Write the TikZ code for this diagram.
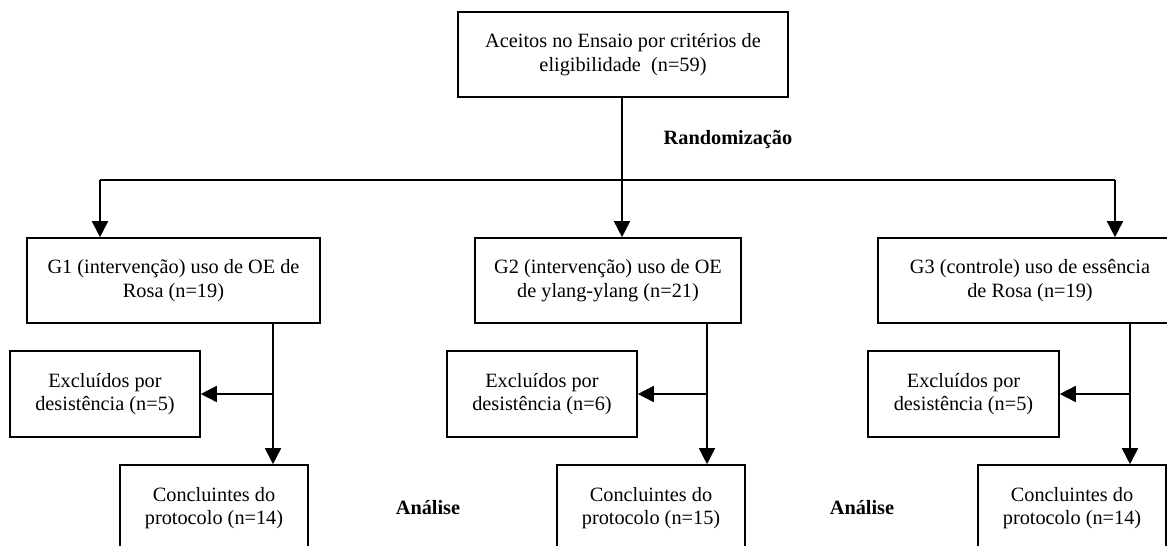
\documentclass[tikz,border=0pt]{standalone}
\usepackage{fontspec}
\setmainfont{Liberation Serif}
\usetikzlibrary{arrows.meta}

\tikzset{
  caixa/.style={draw, line width=1.6pt, align=center, inner sep=0pt,
    font=\fontsize{20.3}{23.5}\selectfont},
  linha/.style={line width=1.6pt},
  seta/.style={line width=1.6pt, -{Triangle[length=16pt,width=16pt]}},
  rotulo/.style={font=\fontsize{20.3}{23.5}\selectfont\bfseries}
}

\begin{document}
\begin{tikzpicture}[x=1pt,y=-1pt]
          \clip (0,0) rectangle (1167,546);
          % topo
          \node[caixa, minimum width=330pt, minimum height=85pt] (aceitos) at (623,54.5) {Aceitos no Ensaio por crit\'erios de\\ eligibilidade~~(n=59)};
          \node[rotulo] (random) at (728,140) {Randomiza\c{c}\~ao};
          % grupos
          \node[caixa, minimum width=293pt, minimum height=85pt] (g1) at (173.5,280.5) {G1 (interven\c{c}\~ao) uso de OE de\\ Rosa (n=19)};
          \node[caixa, minimum width=266pt, minimum height=85pt] (g2) at (608,280.5) {G2 (interven\c{c}\~ao) uso de OE\\ de ylang-ylang (n=21)};
          \node[caixa, minimum width=304pt, minimum height=85pt] (g3) at (1030,280.5) {G3 (controle) uso de ess\^encia\\ de Rosa (n=19)};
          % excluidos
          \node[caixa, minimum width=190pt, minimum height=86pt] (ex1) at (105,394) {Exclu\'idos por\\ desist\^encia (n=5)};
          \node[caixa, minimum width=190pt, minimum height=86pt] (ex2) at (542,394) {Exclu\'idos por\\ desist\^encia (n=6)};
          \node[caixa, minimum width=191pt, minimum height=86pt] (ex3) at (963.5,394) {Exclu\'idos por\\ desist\^encia (n=5)};
          % concluintes
          \node[caixa, minimum width=188pt, minimum height=86pt] (c1) at (214,508) {Concluintes do\\ protocolo (n=14)};
          \node[caixa, minimum width=188pt, minimum height=86pt] (c2) at (651,508) {Concluintes do\\ protocolo (n=15)};
          \node[caixa, minimum width=188pt, minimum height=86pt] (c3) at (1072,508) {Concluintes do\\ protocolo (n=14)};
          \node[rotulo] (analise1) at (428,508) {An\'alise};
          \node[rotulo] (analise2) at (862,508) {An\'alise};
          % randomizacao
          \coordinate (r0) at (622,180);
          \coordinate (r1) at (100,180);
          \coordinate (r3) at (1115,180);
          \draw[linha] (aceitos.south -| r0) -- (r0);
          \draw[linha] (r1) -- (r3);
          \draw[seta] (r1) -- (r1 |- g1.north);
          \draw[seta] (r0) -- (r0 |- g2.north);
          \draw[seta] (r3) -- (r3 |- g3.north);
          % ramos
          \coordinate (v1) at (273,0);
          \coordinate (v2) at (707,0);
          \coordinate (v3) at (1130,0);
          \draw[seta] (v1 |- g1.south) -- (v1 |- c1.north);
          \draw[seta] (v1 |- ex1.east) -- (ex1.east);
          \draw[seta] (v2 |- g2.south) -- (v2 |- c2.north);
          \draw[seta] (v2 |- ex2.east) -- (ex2.east);
          \draw[seta] (v3 |- g3.south) -- (v3 |- c3.north);
          \draw[seta] (v3 |- ex3.east) -- (ex3.east);
\end{tikzpicture}
\end{document}
